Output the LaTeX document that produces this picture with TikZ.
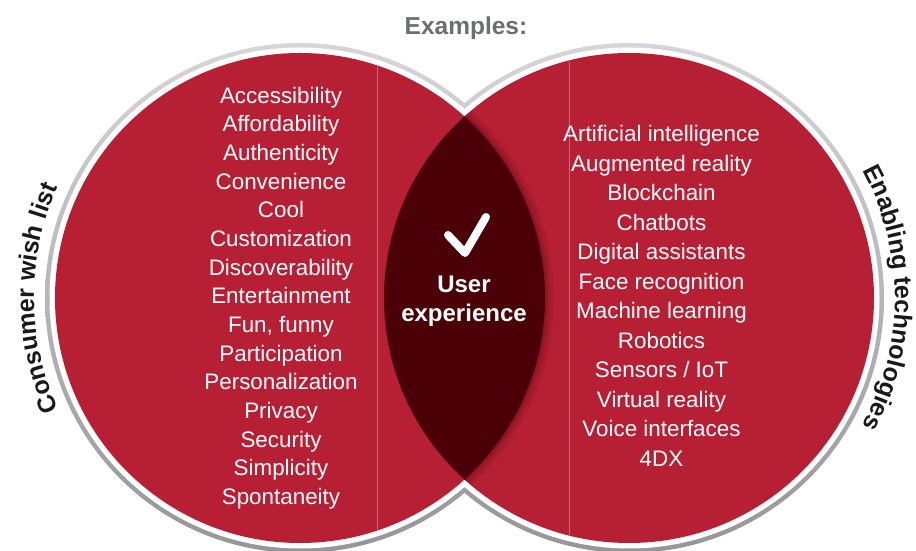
\documentclass[tikz,border=0pt]{standalone}
\usepackage{fontspec}
\setmainfont{Liberation Sans}
\usetikzlibrary{decorations.text}
\definecolor{vred}{RGB}{183,31,52}
\definecolor{lensc}{RGB}{74,0,6}
\definecolor{ringlight}{RGB}{214,214,216}
\definecolor{ringdark}{RGB}{150,150,153}
\definecolor{seam}{RGB}{205,100,112}
\definecolor{exgray}{RGB}{109,110,113}
\definecolor{arcblack}{RGB}{25,25,25}
\newcommand\itemfont{\fontsize{22.4}{26}\selectfont}
\newcommand\uxfont{\fontsize{24}{28}\selectfont\bfseries}
\newcommand\exfont{\fontsize{24.5}{28}\selectfont\bfseries}
\newcommand\arcfont{\fontsize{25}{30}\selectfont\bfseries}
\begin{document}
\begin{tikzpicture}[x=1pt,y=1pt,
  itemtext/.style={text=white, font=\itemfont, anchor=base, inner sep=0pt},
  uxtext/.style={text=white, font=\uxfont, anchor=base, inner sep=0pt},
  checkmark/.style={white, line width=8pt, line cap=round, line join=round},
  seamline/.style={seam, line width=0.7pt}]
\useasboundingbox (0,0) rectangle (916,551);
\clip (0,0) rectangle (916,551);
\coordinate (L) at (300,253);
\coordinate (R) at (629,253);
% outer ring
\shade[top color=ringlight, middle color=ringlight, bottom color=ringdark]
  (L) circle (255pt) (R) circle (255pt);
\fill[white] (L) circle (250.5pt) (R) circle (250.5pt);
% red discs
\fill[vred] (L) circle (245pt) (R) circle (245pt);
% faint seams
\begin{scope}
  \clip (L) circle (244pt);
  \draw[seamline] (377,0) -- (377,551);
\end{scope}
\begin{scope}
  \clip (R) circle (244pt);
  \draw[seamline] (569,0) -- (569,551);
\end{scope}
% shadow of lens edge
\begin{scope}
  \clip (R) circle (245pt);
  \foreach \w in {18,13,9,6,3}
    \draw[black, opacity=0.05, line width=\w pt] (L) circle (245pt);
\end{scope}
% lens
\begin{scope}
  \clip (L) circle (245pt);
  \fill[lensc] (R) circle (245pt);
\end{scope}
% check mark
\coordinate (c1) at (448,316);
\coordinate (c2) at (465,298);
\coordinate (c3) at (486,334);
\draw[checkmark] (c1) -- (c2) -- (c3);
\node[uxtext] (ux1) at (464,258) {User};
\node[uxtext] (ux2) at (464,229.3) {experience};
% title
\node[text=exgray, font=\exfont, anchor=base, inner sep=0pt] (ex) at (466,516) {Examples:};
% left list
\foreach \t [count=\i] in {Accessibility, Affordability, Authenticity, Convenience, Cool,
  Customization, Discoverability, Entertainment, {Fun, funny}, Participation,
  Personalization, Privacy, Security, Simplicity, Spontaneity}
  \node[itemtext] (l\i) at (281,{447.7-28.65*(\i-1)}) {\t};
% right list
\foreach \t [count=\i] in {Artificial intelligence, Augmented reality, Blockchain, Chatbots,
  Digital assistants, Face recognition, Machine learning, Robotics, Sensors / IoT,
  Virtual reality, Voice interfaces, 4DX}
  \node[itemtext] (r\i) at (661.5,{409.3-29.5*(\i-1)}) {\t};
% curved labels
\path[decorate, decoration={text along path, text={|\arcfont\color{arcblack}|Consumer wish list},
  text align=center}]
  ([shift={(225:266pt)}]L) arc[start angle=225, end angle=135, radius=266pt];
\path[decorate, decoration={text along path, text={|\arcfont\color{arcblack}|Enabling technologies},
  text align=center}]
  ([shift={(45:266pt)}]R) arc[start angle=45, end angle=-45, radius=266pt];
\end{tikzpicture}
\end{document}
